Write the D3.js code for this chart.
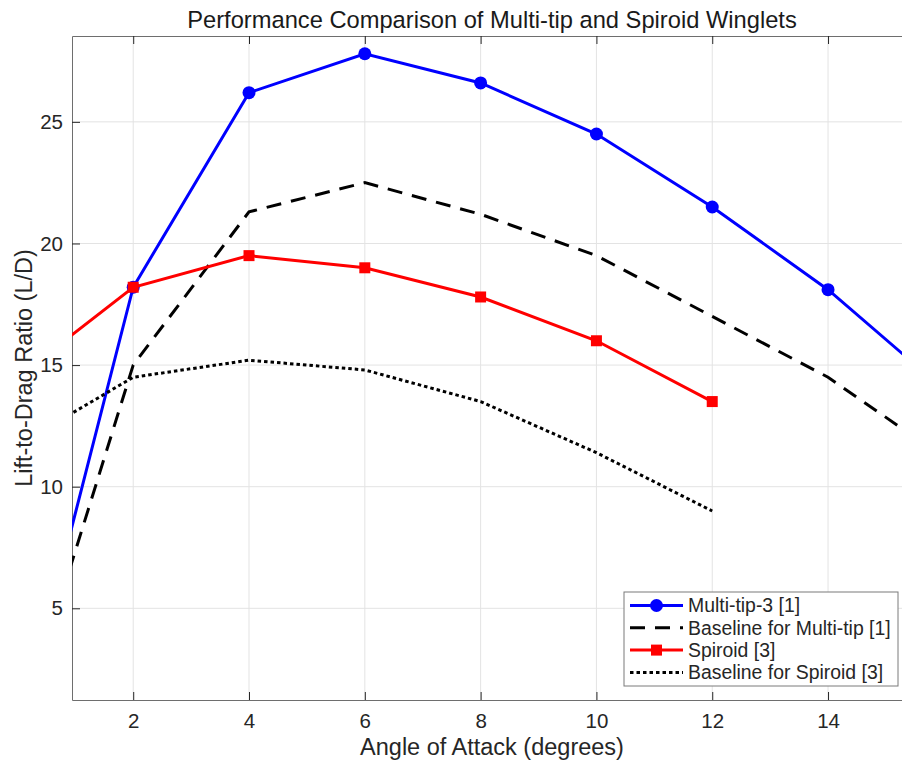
<!DOCTYPE html>
<html lang='en'>
  <head>
    <meta charset='utf-8'>
    <script src='https://cdn.jsdelivr.net/npm/d3@7'></script>
    <style>
      body { margin: 0; background: #fff; }
      svg { display: block; font-family: 'Liberation Sans', Arial, sans-serif; }
    </style>
  </head>
  <body>
    <div id='chart'></div>
    <script>
      // data
      var angles = [0, 2, 4, 6, 8, 10, 12, 14, 16];
      var multiTip3 = [-0.4, 18.2, 26.2, 27.8, 26.6, 24.5, 21.5, 18.1, 14.0];
      var baselineMultiTip = [-0.3, 15.0, 21.3, 22.5, 21.2, 19.5, 17.0, 14.5, 11.2];

      var spiroidAngles = [0, 2, 4, 6, 8, 10, 12];
      var spiroid = [14.5, 18.2, 19.5, 19.0, 17.8, 16.0, 13.5];
      var baselineSpiroid = [11.7, 14.5, 15.2, 14.8, 13.5, 11.4, 9.0];

      var xTicks = [2, 4, 6, 8, 10, 12, 14];
      var yTicks = [5, 10, 15, 20, 25];

      var seriesNames = ['Multi-tip-3 [1]', 'Baseline for Multi-tip [1]', 'Spiroid [3]', 'Baseline for Spiroid [3]'];

      (function() {
        // layout (plot box runs a little past the right edge of the picture)
        var width = 902, height = 763;
        var plotL = 72, plotR = 912, plotT = 36, plotB = 700;

        var svg = d3.select('#chart').append('svg')
                    .attr('width', width)
                    .attr('height', height);

        var x = d3.scaleLinear().domain([0.943, 15.45]).range([plotL, plotR]);
        var y = d3.scaleLinear().domain([1.23, 28.53]).range([plotB, plotT]);

        // grid
        svg.append('g').selectAll('line').data(xTicks).enter().append('line')
           .attr('x1', function(d) { return x(d); })
           .attr('x2', function(d) { return x(d); })
           .attr('y1', plotT).attr('y2', plotB)
           .attr('stroke', '#e3e3e3').attr('stroke-width', 1);

        svg.append('g').selectAll('line').data(yTicks).enter().append('line')
           .attr('x1', plotL).attr('x2', plotR)
           .attr('y1', function(d) { return y(d); })
           .attr('y2', function(d) { return y(d); })
           .attr('stroke', '#e3e3e3').attr('stroke-width', 1);

        // axes (ticks point inwards, box on)
        var xAxis = d3.axisBottom(x).tickValues(xTicks).tickSizeInner(-8).tickSizeOuter(0).tickPadding(13);
        var yAxis = d3.axisLeft(y).tickValues(yTicks).tickSizeInner(-8).tickSizeOuter(0).tickPadding(9);
        var xTop = d3.axisTop(x).tickValues(xTicks).tickSizeInner(-8).tickSizeOuter(0).tickFormat('');

        function styleAxis(g) {
          g.select('.domain').attr('stroke', '#6e6e6e');
          g.selectAll('.tick line').attr('stroke', '#262626');
          g.selectAll('.tick text').attr('fill', '#262626').style('font-size', '20.5px')
           .style('font-family', "'Liberation Sans', Arial, sans-serif");
        }

        svg.append('g').attr('transform', 'translate(0,' + plotB + ')').call(xAxis).call(styleAxis);
        svg.append('g').attr('transform', 'translate(' + plotL + ',0)').call(yAxis).call(styleAxis);
        svg.append('g').attr('transform', 'translate(0,' + plotT + ')').call(xTop).call(styleAxis);

        // clip for series
        svg.append('clipPath').attr('id', 'plotClip')
           .append('rect').attr('x', plotL).attr('y', plotT)
           .attr('width', plotR - plotL).attr('height', plotB - plotT);

        var plot = svg.append('g').attr('clip-path', 'url(#plotClip)');

        var line = d3.line()
                     .x(function(d) { return x(d[0]); })
                     .y(function(d) { return y(d[1]); });

        var styles = [
          { color: '#0000ff', dash: null, marker: 'circle' },
          { color: '#000000', dash: '15,10', marker: null },
          { color: '#ff0000', dash: null, marker: 'square' },
          { color: '#000000', dash: '3.5,3', marker: null }
        ];

        var series = [
          d3.zip(angles, multiTip3),
          d3.zip(angles, baselineMultiTip),
          d3.zip(spiroidAngles, spiroid),
          d3.zip(spiroidAngles, baselineSpiroid)
        ];

        function drawMarkers(g, pts, st) {
          if (st.marker === 'circle') {
            g.selectAll('circle.m').data(pts).enter().append('circle')
             .attr('class', 'm')
             .attr('cx', function(d) { return x(d[0]); })
             .attr('cy', function(d) { return y(d[1]); })
             .attr('r', 6.5)
             .attr('fill', st.color);
          } else if (st.marker === 'square') {
            g.selectAll('rect.m').data(pts).enter().append('rect')
             .attr('class', 'm')
             .attr('x', function(d) { return x(d[0]) - 5.5; })
             .attr('y', function(d) { return y(d[1]) - 5.5; })
             .attr('width', 11).attr('height', 11)
             .attr('fill', st.color);
          }
        }

        series.forEach(function(pts, i) {
          var st = styles[i];
          var g = plot.append('g');
          g.append('path').datum(pts)
           .attr('d', line)
           .attr('fill', 'none')
           .attr('stroke', st.color)
           .attr('stroke-width', 3)
           .attr('stroke-dasharray', st.dash);
          drawMarkers(g, pts, st);
        });

        // title and labels
        svg.append('text')
           .text('Performance Comparison of Multi-tip and Spiroid Winglets')
           .attr('x', (plotL + plotR) / 2).attr('y', 28)
           .attr('text-anchor', 'middle')
           .attr('fill', '#1a1a1a')
           .style('font-size', '23.7px');

        svg.append('text')
           .text('Angle of Attack (degrees)')
           .attr('x', (plotL + plotR) / 2).attr('y', 755)
           .attr('text-anchor', 'middle')
           .attr('fill', '#262626')
           .style('font-size', '23.5px');

        svg.append('text')
           .text('Lift-to-Drag Ratio (L/D)')
           .attr('transform', 'translate(32,' + ((plotT + plotB) / 2) + ') rotate(-90)')
           .attr('text-anchor', 'middle')
           .attr('fill', '#262626')
           .style('font-size', '23.5px');

        // legend
        var lgX = 624, lgY = 592, lgW = 274, lgH = 94, rowH = 22.3;
        var legend = svg.append('g');
        legend.append('rect')
              .attr('x', lgX).attr('y', lgY).attr('width', lgW).attr('height', lgH)
              .attr('fill', '#fff').attr('stroke', '#7a7a7a').attr('stroke-width', 1);

        seriesNames.forEach(function(name, i) {
          var st = styles[i];
          var cy = lgY + 13.5 + i * rowH;
          var row = legend.append('g');
          row.append('line')
             .attr('x1', 630).attr('x2', 683)
             .attr('y1', cy).attr('y2', cy)
             .attr('stroke', st.color).attr('stroke-width', 3)
             .attr('stroke-dasharray', st.dash);
          if (st.marker === 'circle') {
            row.append('circle').attr('cx', 656.5).attr('cy', cy).attr('r', 6.5).attr('fill', st.color);
          } else if (st.marker === 'square') {
            row.append('rect').attr('x', 651).attr('y', cy - 5.5).attr('width', 11).attr('height', 11).attr('fill', st.color);
          }
          row.append('text')
             .text(name)
             .attr('x', 688).attr('y', cy)
             .attr('dy', '0.35em')
             .attr('fill', '#262626')
             .style('font-size', '19.4px');
        });
      })();
    </script>
  </body>
</html>
